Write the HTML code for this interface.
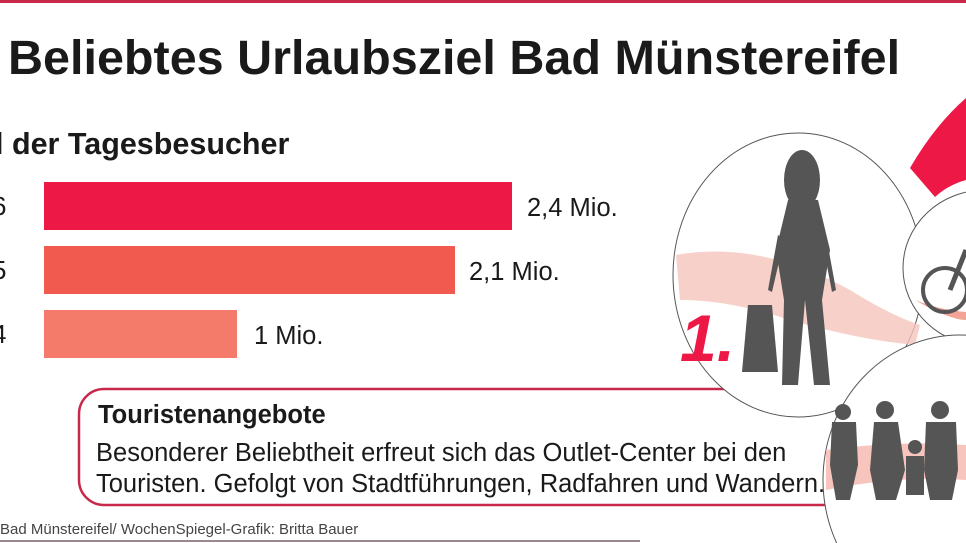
<!DOCTYPE html>
<html><head><meta charset="utf-8"><style>
html,body{margin:0;width:966px;height:543px;overflow:hidden}
body{background:#fff;font-family:"Liberation Sans",Arial,sans-serif;position:relative}
.a{position:absolute;white-space:nowrap;color:#1a1a1a}
</style></head><body>
<svg width="966" height="543" style="position:absolute;left:0;top:0;overflow:hidden">
<rect x="0" y="0" width="966" height="3" fill="#c8294a"/>
<rect x="0" y="540" width="640" height="2" fill="#9a8a90"/>
<rect x="44" y="182" width="468" height="48" fill="#ee1846"/>
<rect x="44" y="246" width="411" height="48" fill="#f05a4f"/>
<rect x="44" y="310" width="193" height="48" fill="#f47a69"/>
<path d="M910 168 Q935 125 966 98 L966 180 Q948 185 935 197 Z" fill="#ee1846"/>
<rect x="79" y="389" width="780" height="116" rx="25" fill="#fff" stroke="#c8294a" stroke-width="2.5"/>
<ellipse cx="798" cy="275" rx="125" ry="142" fill="#fff" stroke="#555" stroke-width="1"/>
<path d="M676 255 Q760 240 850 290 Q890 315 920 325 L915 345 Q860 340 790 320 Q730 300 680 300 Z" fill="#f6c4bd" opacity="0.8"/>
<ellipse cx="985" cy="268" rx="82" ry="78" fill="#fff" stroke="#555" stroke-width="1"/>
<path d="M915 300 Q950 320 966 320 L966 312 Q940 310 915 300Z" fill="#f3a497"/>
<circle cx="945" cy="290" r="22" fill="none" stroke="#555" stroke-width="4"/>
<path d="M950 290 L966 250" stroke="#555" stroke-width="5"/>
<ellipse cx="960" cy="480" rx="137" ry="145" fill="#fff" stroke="#555" stroke-width="1"/>
<path d="M826 450 Q900 440 966 445 L966 480 Q900 475 826 490 Z" fill="#f5b7ae" opacity="0.8"/>
<g fill="#555">
<ellipse cx="802" cy="180" rx="18" ry="30"/>
<path d="M788 200 L818 200 L830 250 L822 300 L830 385 L814 385 L805 300 L798 385 L782 385 L784 300 L776 250 Z"/>
<path d="M778 235 L768 290 L772 292 L784 240Z M826 235 L836 290 L832 292 L822 240Z"/>
<path d="M748 305 L772 305 L778 372 L742 372Z"/>
<circle cx="843" cy="412" r="8"/><path d="M832 422 L856 422 L858 465 L850 500 L836 500 L830 465Z"/>
<circle cx="885" cy="410" r="9"/><path d="M874 422 L898 422 L905 470 L896 500 L876 500 L870 470Z"/>
<circle cx="915" cy="447" r="7"/><path d="M906 456 L924 456 L924 495 L906 495Z"/>
<circle cx="940" cy="410" r="9"/><path d="M926 422 L956 422 L958 470 L952 500 L930 500 L924 470Z"/>
</g>
</svg>
<div class="a" style="left:8px;top:30px;font-size:48.5px;font-weight:bold">Beliebtes Urlaubsziel Bad Münstereifel</div>
<div class="a" style="left:-5px;top:127px;font-size:30.5px;font-weight:bold">l der Tagesbesucher</div>
<div class="a" style="left:-8px;top:191px;font-size:26px">6</div>
<div class="a" style="left:-8px;top:255px;font-size:26px">5</div>
<div class="a" style="left:-8px;top:319px;font-size:26px">4</div>
<div class="a" style="left:527px;top:194px;font-size:25.5px">2,4 Mio.</div>
<div class="a" style="left:469px;top:258px;font-size:25.5px">2,1 Mio.</div>
<div class="a" style="left:254px;top:322px;font-size:25.5px">1 Mio.</div>
<div class="a" style="left:680px;top:300px;font-size:66px;font-weight:bold;font-style:italic;color:#ee1846">1.</div>
<div class="a" style="left:98px;top:401px;font-size:25.5px;font-weight:bold">Touristenangebote</div>
<div class="a" style="left:96px;top:438px;font-size:25.5px;line-height:31px">Besonderer Beliebtheit erfreut sich das Outlet-Center bei den<br>Touristen. Gefolgt von Stadtführungen, Radfahren und Wandern.</div>
<div class="a" style="left:0px;top:521px;font-size:15px;color:#444">Bad Münstereifel/ WochenSpiegel-Grafik: Britta Bauer</div>
</body></html>
